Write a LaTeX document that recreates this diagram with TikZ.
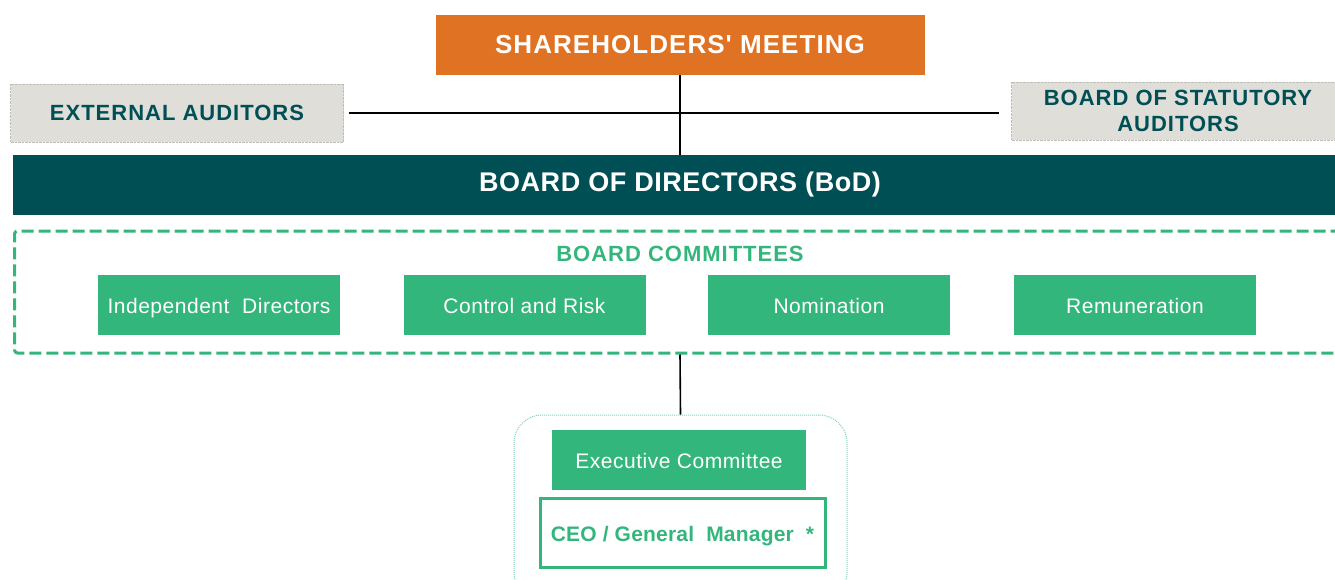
\documentclass[tikz,border=0pt]{standalone}
\usepackage{fontspec}
\setmainfont{Liberation Sans}[Ligatures=TeXOff]
\usetikzlibrary{positioning}
\definecolor{cor}{HTML}{E07224}
\definecolor{ctl}{HTML}{004F55}
\definecolor{cgr}{HTML}{33B67B}
\definecolor{cgy}{HTML}{DFDED9}
\newcommand{\bigfont}[2]{\bfseries\fontsize{#1}{#1}\selectfont\addfontfeatures{LetterSpace=#2}}
\tikzset{
    head/.style={fill=cor, text=white, font=\bigfont{26}{4}, minimum width=489pt, minimum height=60pt},
    audit/.style={fill=cgy, draw=cgy!85!black, densely dotted, text=ctl, align=center,
        font=\bigfont{22}{4.5}, minimum width=333pt, minimum height=58pt, inner sep=0pt},
    comm/.style={fill=cgr, text=white, font=\fontsize{21}{24}\selectfont\addfontfeatures{LetterSpace=2.5},
        text height=17pt, text depth=1pt, minimum width=242pt, minimum height=60pt, inner sep=0pt},
    link/.style={line width=1.6pt},
}

\begin{document}
\begin{tikzpicture}[x=1pt, y=-1pt]
    \useasboundingbox (0, 0) rectangle (1335, 580);
    % top level
    \node[head] (sm) at (680, 45) {SHAREHOLDERS' MEETING};
    \node[audit] (ea) at (177, 113) {EXTERNAL AUDITORS};
    \node[audit] (sa) at (1178, 111) {BOARD OF STATUTORY\\[4pt]AUDITORS};
    \node[fill=ctl, text=white, font=\bigfont{27}{2}, minimum width=1334pt, minimum height=60pt] (bod) at (680, 185) {BOARD OF DIRECTORS (BoD)};
    % committees
    \node[draw=cgr, line width=3pt, dash pattern=on 12pt off 5pt, rounded corners=3pt, minimum width=1331pt, minimum height=122pt] (bc) at (680, 292) {};
    \node[text=cgr, font=\bigfont{22}{4.5}] (bct) at (680, 254) {BOARD COMMITTEES};
    \node[comm] (ind) at (219, 305) {Independent\ \ Directors};
    \node[comm] (cr) at (524.5, 305) {Control and Risk};
    \node[comm] (nom) at (829, 305) {Nomination};
    \node[comm] (rem) at (1135, 305) {Remuneration};
    % executive
    \node[draw=cgr!60, densely dotted, line width=1pt, rounded corners=28pt, minimum width=333pt, minimum height=185pt] (grp) at (680.5, 507.5) {};
    \node[comm, minimum width=254pt] (ec) at (679, 460) {Executive Committee};
    \node[draw=cgr, line width=3pt, text=cgr, font=\bigfont{21}{1}, text height=17pt, text depth=1pt, minimum width=285pt, minimum height=69pt] (ceo) at (682.5, 533) {CEO / General\ \ Manager\ \ *};
    % links
    \draw[link] (sm.south) -- (bod.north);
    \draw[link, shorten <=5pt, shorten >=12pt] (ea.east) -- (ea.east -| sa.west);
    \draw[link] (bc.south) -- (grp.north);
\end{tikzpicture}
\end{document}
